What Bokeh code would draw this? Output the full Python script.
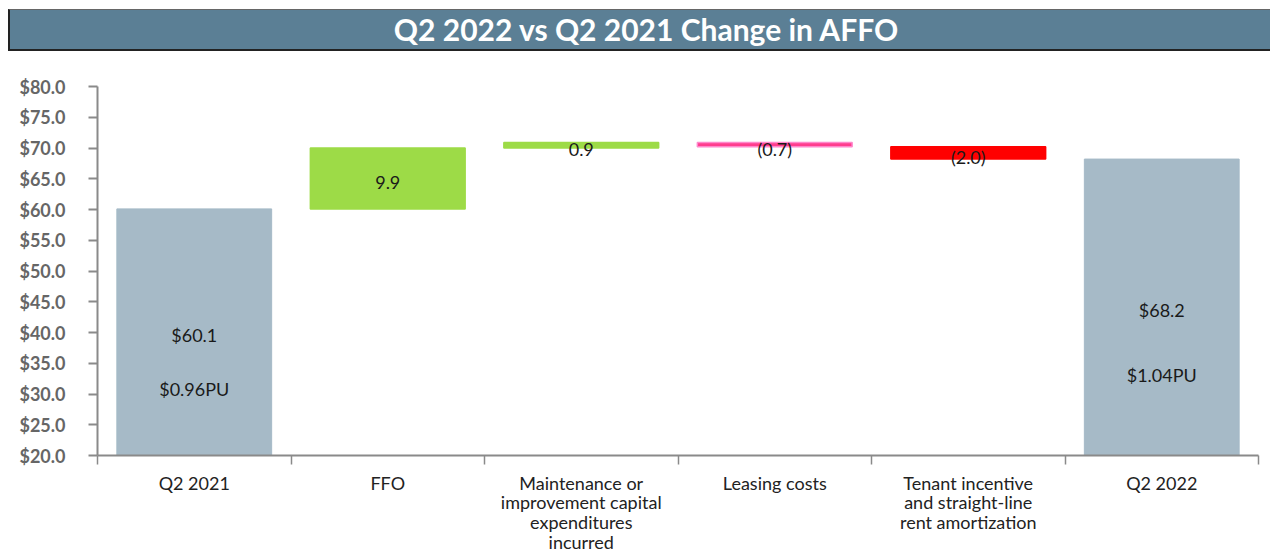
from bokeh.plotting import figure
from bokeh.models import ColumnDataSource, FixedTicker, NumeralTickFormatter, Range1d, Div
from bokeh.layouts import column
from bokeh.core.properties import value
from bokeh.embed import file_html
from bokeh.resources import INLINE

# ---- data ----
categories = ["Q2 2021", "FFO",
              "Maintenance or\nimprovement capital\nexpenditures\nincurred",
              "Leasing costs",
              "Tenant incentive\nand straight-line\nrent amortization",
              "Q2 2022"]
start_value = 60.1
changes = [9.9, 0.9, -0.7, -2.0]
end_value = 68.2
change_labels = ["9.9", "0.9", "(0.7)", "(2.0)"]
total_labels = ["$60.1", "$68.2"]
per_unit_labels = ["$0.96PU", "$1.04PU"]
y_ticks = [20, 25, 30, 35, 40, 45, 50, 55, 60, 65, 70, 75, 80]
title_text = "Q2 2022 vs Q2 2021 Change in AFFO"

GREY = "#a6bac7"
GREEN = "#9ddb47"
PINK = "#ff3d8e"
RED = "#ff0000"
change_colors = [GREEN, GREEN, PINK, RED]
change_lines = [GREEN, GREEN, "#ff88cc", RED]
FONT = "Lato"

# ---- derived ----
xs = [i + 0.5 for i in range(len(categories))]
bottoms, tops = [], []
level = start_value
for c in changes:
    bottoms.append(level)
    level = level + c
    tops.append(level)

change_src = ColumnDataSource(dict(
    x=xs[1:-1], bottom=bottoms, top=tops,
    mid=[(b + t) / 2 for b, t in zip(bottoms, tops)],
    fill=change_colors, line=change_lines, label=change_labels))

base = y_ticks[0]
totals = [start_value, end_value]
total_src = ColumnDataSource(dict(
    x=[xs[0], xs[-1]], top=totals, bottom=[base, base],
    ylab=[base + 0.49 * (t - base) for t in totals],
    yplab=[base + 0.27 * (t - base) for t in totals],
    label=total_labels, plabel=per_unit_labels))

# ---- title bar ----
title = Div(text=(
    f'<div style="width:1262px;height:42px;box-sizing:border-box;'
    f'background:#5b7f95;border:2px solid #222;border-right:none;'
    f'border-top:1px solid #666;padding-left:12px;color:white;font-family:Lato;'
    f'font-weight:bold;font-size:30px;line-height:38px;text-align:center;">{title_text}</div>'),
    width=1262, height=42, margin=(9, 0, 0, 8))

# ---- figure ----
p = figure(width=1262, height=504, output_backend="svg", toolbar_location=None,
           x_range=Range1d(0, len(categories)), y_range=Range1d(y_ticks[0], y_ticks[-1]),
           min_border_left=97, min_border_right=4, min_border_top=35, min_border_bottom=100,
           margin=(0, 0, 0, 0))
p.outline_line_color = None
p.grid.grid_line_color = None
p.background_fill_color = "white"

p.vbar(x="x", width=0.8, bottom="bottom", top="top", source=total_src,
       fill_color=GREY, line_color=GREY)
p.vbar(x="x", width=0.8, bottom="bottom", top="top", source=change_src,
       fill_color="fill", line_color="line", line_width=1.5)

p.text(x="x", y="mid", text="label", source=change_src, text_align="center",
       text_baseline="middle", y_offset=4, text_font=value(FONT),
       text_font_size="18px", text_color="#1a1a1a")
p.text(x="x", y="ylab", text="label", source=total_src, text_align="center",
       text_baseline="middle", text_font=value(FONT),
       text_font_size="18px", text_color="#1a1a1a")
p.text(x="x", y="yplab", text="plabel", source=total_src, text_align="center",
       text_baseline="middle", text_font=value(FONT),
       text_font_size="18px", text_color="#1a1a1a")

# y axis
ya = p.yaxis[0]
ya.ticker = FixedTicker(ticks=y_ticks)
ya.formatter = NumeralTickFormatter(format="$0.0")
ya.axis_line_color = "#8a8a8a"
ya.axis_line_width = 2
ya.major_tick_line_color = "#8a8a8a"
ya.major_tick_line_width = 2
ya.major_tick_in = 0
ya.major_tick_out = 9
ya.minor_tick_line_color = None
ya.major_label_standoff = 23
ya.major_label_text_font = FONT
ya.major_label_text_font_style = "bold"
ya.major_label_text_font_size = "18px"
ya.major_label_text_color = "#666666"

# x axis
xa = p.xaxis[0]
xa.ticker = FixedTicker(ticks=xs, minor_ticks=list(range(len(categories) + 1)))
xa.major_label_overrides = {x: c for x, c in zip(xs, categories)}
xa.axis_line_color = "#8a8a8a"
xa.axis_line_width = 2
xa.major_tick_line_color = None
xa.minor_tick_line_color = "#8a8a8a"
xa.minor_tick_line_width = 1.5
xa.minor_tick_in = 0
xa.minor_tick_out = 9
xa.major_label_standoff = 7
xa.major_label_text_font = FONT
xa.major_label_text_font_size = "18px"
xa.major_label_text_line_height = 0.9
xa.major_label_text_color = "#222222"

layout = column(title, p, spacing=0)
open("out.html", "w").write(file_html(layout, INLINE))
